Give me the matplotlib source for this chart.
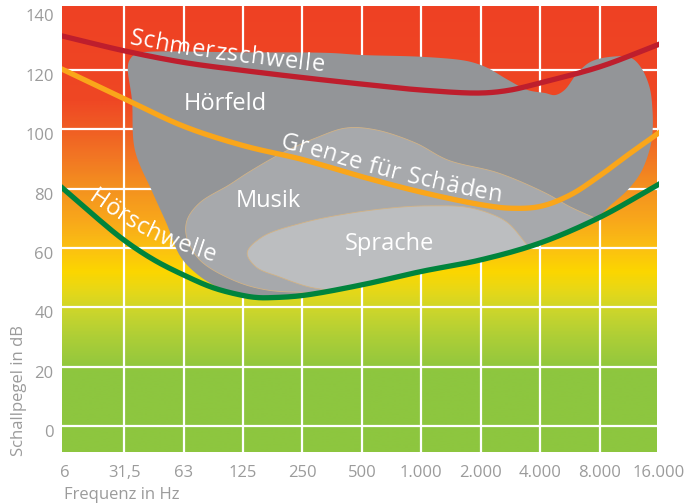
import numpy as np
import matplotlib
matplotlib.use('Agg')
import matplotlib.pyplot as plt
from matplotlib.colors import LinearSegmentedColormap
from matplotlib.font_manager import FontProperties
from matplotlib.patches import Polygon
import matplotlib.transforms as mtransforms

FONT = 'Open Sans'
plt.rcParams['font.family'] = [FONT, 'DejaVu Sans']

# ---------------- data ----------------
freq_labels = ['6', '31,5', '63', '125', '250', '500', '1.000', '2.000', '4.000', '8.000', '16.000']
db_ticks = [0, 20, 40, 60, 80, 100, 120, 140]
db_grid = [0, 20, 40, 60, 80, 100, 120]

# x = index of the frequency band, y = level in dB
pain_x = [0, 1, 2, 3, 4, 5, 6, 7, 7.5, 8, 9, 10]
pain_y = [131.2, 126.4, 122.5, 119.8, 117.4, 115.2, 113.2, 112.2, 113.2, 115.6, 121.0, 128.6]

damage_x = [0, 1, 2, 3, 4, 5, 6, 7, 7.5, 8, 8.5, 9, 9.5, 10]
damage_y = [119.8, 110.3, 101.0, 94.5, 89.8, 84.0, 78.8, 74.6, 73.4, 74.0, 77.8, 84.3, 91.7, 98.8]

hear_x = [0, 0.5, 1, 1.5, 2, 2.5, 3, 3.25, 3.5, 4, 5, 6, 7, 8, 9, 10]
hear_y = [79.5, 70.8, 62.6, 56.0, 50.9, 46.6, 44.0, 43.3, 43.3, 44.0, 47.6, 52.1, 56.0, 61.7, 70.3, 81.5]

# region outlines (free part; closed along the hearing threshold)
hoerfeld_x = [3.10, 2.65, 2.27, 1.95, 1.71, 1.48, 1.18, 1.13, 1.06, 1.09, 1.19, 1.34, 3.0, 4.44,
              5.0, 6.0, 6.67, 6.9, 7.12, 7.46, 7.79, 8.08, 8.25, 8.41, 8.63, 8.85, 9.19, 9.52,
              9.69, 9.84, 9.89, 9.89, 9.84, 9.69, 9.47, 9.19, 8.97]
hoerfeld_y = [44.0, 46.2, 50.5, 57.0, 68.4, 78.6, 93.0, 109.9, 120.6, 123.3, 125.4, 126.0, 125.9, 125.7,
              125.0, 124.4, 123.3, 122.3, 120.6, 116.6, 113.2, 112.2, 111.5, 113.2, 119.0, 122.7, 124.4, 124.1,
              121.0, 114.2, 106.5, 98.8, 93.0, 85.3, 79.5, 74.5, 70.3]

musik_x = [4.28, 3.39, 2.82, 2.27, 2.05, 2.06, 2.27, 2.77, 3.10, 3.66, 4.23, 4.73, 5.23, 5.90,
           6.45, 7.29, 8.08, 8.51, 8.92]
musik_y = [44.9, 45.9, 49.3, 56.0, 63.7, 69.5, 75.2, 81.3, 85.6, 92.0, 97.1, 100.4, 99.8, 95.4,
           89.6, 85.3, 78.6, 73.8, 70.1]

sprache_x = [4.53, 4.11, 3.61, 3.22, 3.07, 3.32, 3.99, 4.83, 5.67, 6.17, 6.74, 7.17, 7.46, 7.79]
sprache_y = [45.6, 46.9, 50.3, 53.6, 58.4, 63.7, 68.4, 71.8, 73.8, 74.2, 73.8, 71.5, 68.4, 60.8]

region_names = ['Hörfeld', 'Musik', 'Sprache']
curve_names = ['Schmerzschwelle', 'Grenze für Schäden', 'Hörschwelle']

# background gradient stops (dB -> colour)
grad_db = [-9, 18, 28, 38, 46, 52, 60, 70, 80, 90, 100, 110, 142]
grad_colors = ['#8DC63F', '#8DC63F', '#A8CD38', '#C9D52D', '#E8D816', '#FCD600', '#FBC012',
               '#F8A61B', '#F4921F', '#F27823', '#F05E24', '#EF4724', '#EE4123']

# ---------------- figure ----------------
W, H, DPI = 687, 504, 100
fig = plt.figure(figsize=(W / DPI, H / DPI), dpi=DPI)
L, R, T, B = 62, 659, 6, 452
ax = fig.add_axes([L / W, 1 - B / H, (R - L) / W, (B - T) / H])
XMIN, XMAX = -0.047, 9.955
YMIN, YMAX = -8.7, 141.5
ax.set_xlim(XMIN, XMAX)
ax.set_ylim(YMIN, YMAX)
for s in ax.spines.values():
    s.set_visible(False)

# gradient background
pos = [(v - grad_db[0]) / (grad_db[-1] - grad_db[0]) for v in grad_db]
cmap = LinearSegmentedColormap.from_list('bg', list(zip(pos, grad_colors)))
grad = np.linspace(YMIN, YMAX, 600)[:, None]
ax.imshow(grad, cmap=cmap, vmin=grad_db[0], vmax=grad_db[-1], origin='lower',
          extent=[XMIN, XMAX, YMIN, YMAX], aspect='auto', zorder=0, interpolation='bilinear')

# grid
for v in db_grid:
    ax.axhline(v, color='white', lw=1.6, zorder=1)
for i in range(1, len(freq_labels) - 1):
    ax.axvline(i, color='white', lw=1.6, zorder=1)

# ticks
TICKC = '#9b9b9b'
LAB = 12
ax.set_xticks(range(len(freq_labels)))
ax.set_xticklabels(freq_labels)
ax.set_yticks(db_ticks)
ax.set_yticklabels([str(v) for v in db_ticks])
ax.tick_params(axis='both', length=0, colors=TICKC, labelsize=LAB)
ax.tick_params(axis='x', pad=9.5)
ax.tick_params(axis='y', pad=6)
off = mtransforms.ScaledTranslation(0, -0.05, fig.dpi_scale_trans)
for lbl in ax.get_yticklabels():
    lbl.set_transform(lbl.get_transform() + off)

fig.text(64 / W, 1 - 495 / H, 'Frequenz in Hz', color=TICKC, fontsize=LAB, ha='left', va='center')
fig.text(19 / W, 1 - 456 / H, 'Schallpegel in dB', color=TICKC, fontsize=LAB, rotation=90,
         ha='center', va='bottom')


# ---------------- helpers ----------------
def catmull_rom(P, n=20):
    P = np.asarray(P, float)
    P = np.vstack([2 * P[0] - P[1], P, 2 * P[-1] - P[-2]])
    out = []
    for i in range(1, len(P) - 2):
        p0, p1, p2, p3 = P[i - 1], P[i], P[i + 1], P[i + 2]
        t0 = 0.0
        t1 = t0 + max(np.linalg.norm(p1 - p0), 1e-6) ** 0.5
        t2 = t1 + max(np.linalg.norm(p2 - p1), 1e-6) ** 0.5
        t3 = t2 + max(np.linalg.norm(p3 - p2), 1e-6) ** 0.5
        t = np.linspace(t1, t2, n, endpoint=False)[:, None]
        A1 = (t1 - t) / (t1 - t0) * p0 + (t - t0) / (t1 - t0) * p1
        A2 = (t2 - t) / (t2 - t1) * p1 + (t - t1) / (t2 - t1) * p2
        A3 = (t3 - t) / (t3 - t2) * p2 + (t - t2) / (t3 - t2) * p3
        B1 = (t2 - t) / (t2 - t0) * A1 + (t - t0) / (t2 - t0) * A2
        B2 = (t3 - t) / (t3 - t1) * A2 + (t - t1) / (t3 - t1) * A3
        out.append((t2 - t) / (t2 - t1) * B1 + (t - t1) / (t2 - t1) * B2)
    out.append(P[-2][None])
    return np.vstack(out)


def smooth(xs, ys, extend=False):
    D = ax.transData.transform(np.column_stack([xs, ys]))
    S = catmull_rom(D)
    if extend:
        d0 = S[0] - S[1]
        d1 = S[-1] - S[-2]
        S = np.vstack([S[0] + d0 / np.linalg.norm(d0) * 12, S, S[-1] + d1 / np.linalg.norm(d1) * 12])
    return ax.transData.inverted().transform(S)


hear_s = smooth(hear_x, hear_y, extend=True)


def threshold_segment(xa, xb):
    hx, hy = hear_s[:, 0], hear_s[:, 1]
    m = (hx > min(xa, xb)) & (hx < max(xa, xb))
    seg = np.column_stack([hx[m], hy[m]])
    if xa > xb:
        seg = seg[::-1]
    return seg


def region(xs, ys, color, z, edge=None):
    free = smooth(xs, ys)
    closing = threshold_segment(xs[-1], xs[0])
    pts = np.vstack([free, closing])
    poly = Polygon(pts, closed=True, facecolor=color, zorder=z,
                   edgecolor=edge if edge else 'none', lw=0.6 if edge else 0)
    ax.add_patch(poly)


region(hoerfeld_x, hoerfeld_y, '#939598', 2)
region(musik_x, musik_y, '#A7A9AC', 3, edge='#D2B386')
region(sprache_x, sprache_y, '#BCBEC0', 4, edge='#D2B386')

pain_s = smooth(pain_x, pain_y, extend=True)
damage_s = smooth(damage_x, damage_y, extend=True)
ax.plot(pain_s[:, 0], pain_s[:, 1], color='#BE1E2D', lw=3.8, zorder=5, solid_capstyle='butt')
ax.plot(damage_s[:, 0], damage_s[:, 1], color='#FAA61A', lw=3.8, zorder=5, solid_capstyle='butt')
ax.plot(hear_s[:, 0], hear_s[:, 1], color='#00843D', lw=3.8, zorder=5, solid_capstyle='butt')

# region labels
BIG = 17
ax.text(2.70, 106.5, region_names[0], color='white', fontsize=BIG, ha='center', va='baseline', zorder=7)
ax.text(3.42, 73.8, region_names[1], color='white', fontsize=BIG, ha='center', va='baseline', zorder=7)
ax.text(5.47, 59.4, region_names[2], color='white', fontsize=BIG, ha='center', va='baseline', zorder=7)

# text along curves
fig.canvas.draw()
renderer = fig.canvas.get_renderer()
fp = FontProperties(family=FONT, size=BIG)


def tw(s):
    if s == '':
        return 0.0
    a = renderer.get_text_width_height_descent(s + 'l', fp, ismath=False)[0]
    b = renderer.get_text_width_height_descent('l', fp, ismath=False)[0]
    return a - b


def curve_text(curve, text, x_start, off0, off1, track=0.0):
    P = ax.transData.transform(curve)
    d = np.gradient(P, axis=0)
    t = d / np.linalg.norm(d, axis=1)[:, None]
    n = np.column_stack([-t[:, 1], t[:, 0]])
    s = np.concatenate([[0], np.cumsum(np.linalg.norm(np.diff(P, axis=0), axis=1))])
    i0 = int(np.argmin(np.abs(curve[:, 0] - x_start)))
    total = tw(text) + track * len(text)
    frac = np.clip((s - s[i0]) / total, 0, 1)
    offs = off0 + (off1 - off0) * frac
    Q = P + n * offs[:, None]
    sq = np.concatenate([[0], np.cumsum(np.linalg.norm(np.diff(Q, axis=0), axis=1))])
    for i, ch in enumerate(text):
        if ch == ' ':
            continue
        w0 = tw(text[:i]) + track * i
        w1 = tw(text[:i + 1]) + track * i
        c = sq[i0] + (w0 + w1) / 2
        qx = np.interp(c, sq, Q[:, 0])
        qy = np.interp(c, sq, Q[:, 1])
        j = int(np.clip(np.searchsorted(sq, c), 2, len(sq) - 3))
        ang = np.degrees(np.arctan2(Q[j + 2, 1] - Q[j - 2, 1], Q[j + 2, 0] - Q[j - 2, 0]))
        xd, yd = ax.transData.inverted().transform((qx, qy))
        ax.text(xd, yd, ch, rotation=ang, rotation_mode='anchor', ha='center', va='baseline',
                color='white', fontproperties=fp, zorder=7)


curve_text(pain_s, curve_names[0], 1.06, 8, 8, track=0.6)
curve_text(damage_s, curve_names[1], 3.62, 6, 6, track=0.6)
curve_text(hear_s, curve_names[2], 0.30, 8, 24, track=0.6)

fig.savefig('out.png', dpi=DPI)
